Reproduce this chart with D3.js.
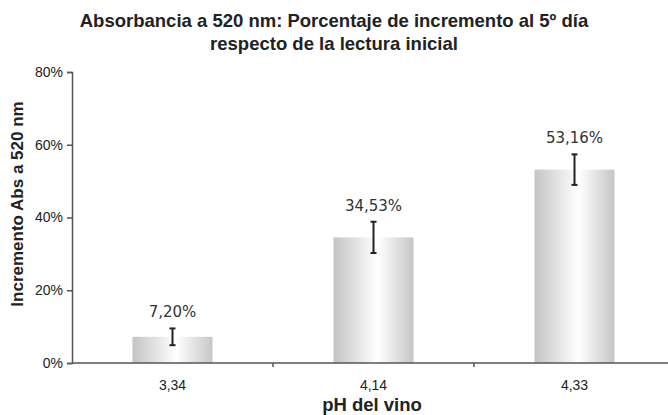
<!DOCTYPE html>
<html>
<head>
<meta charset="utf-8">
<script src="https://cdn.jsdelivr.net/npm/d3@7"></script>
<style>
  body { margin: 0; background: #fff; }
</style>
</head>
<body>
<div id="chart"></div>
<script>
var categories = ["3,34", "4,14", "4,33"];
var values = [7.20, 34.53, 53.16];
var errors = [2.3, 4.3, 4.2];
var valueLabels = ["7,20%", "34,53%", "53,16%"];
var yTicks = [0, 20, 40, 60, 80];

var W = 668, H = 415;
var margin = {top: 72, right: -7, bottom: 52, left: 72},
    width = W - margin.left - margin.right,
    height = H - margin.top - margin.bottom;

var svg = d3.select("#chart").append("svg")
    .attr("width", W)
    .attr("height", H);

var defs = svg.append("defs");
var grad = defs.append("linearGradient")
    .attr("id", "barGrad")
    .attr("x1", "0%").attr("x2", "100%").attr("y1", "0%").attr("y2", "0%");
grad.append("stop").attr("offset", "0%").attr("stop-color", "#c4c4c4");
grad.append("stop").attr("offset", "55%").attr("stop-color", "#ffffff");
grad.append("stop").attr("offset", "100%").attr("stop-color", "#c6c6c6");

var g = svg.append("g")
    .attr("transform", "translate(" + margin.left + "," + margin.top + ")");

var x = d3.scaleBand().domain(categories).range([0, 603]).paddingInner(0).paddingOuter(0);
var y = d3.scaleLinear().domain([0, 80]).range([height, 0]);

// title
var title = svg.append("text")
    .attr("text-anchor", "middle")
    .attr("font-family", "Liberation Sans, Arial, sans-serif")
    .attr("font-weight", "bold")
    .attr("font-size", "18.5px")
    .attr("fill", "#222");
title.append("tspan").attr("x", 334).attr("y", 27)
    .text("Absorbancia a 520 nm: Porcentaje de incremento al 5º día");
title.append("tspan").attr("x", 334).attr("y", 50)
    .text("respecto de la lectura inicial");

// bars
var barW = 80;
g.selectAll("rect.bar")
    .data(values)
    .enter().append("rect")
    .attr("class", "bar")
    .attr("x", function(d, i) { return x(categories[i]) + x.bandwidth() / 2 - barW / 2; })
    .attr("y", function(d) { return y(d); })
    .attr("width", barW)
    .attr("height", function(d) { return height - y(d); })
    .attr("fill", "url(#barGrad)");

// error bars
var eb = g.selectAll("g.err")
    .data(values)
    .enter().append("g")
    .attr("class", "err")
    .attr("stroke", "#222")
    .attr("stroke-width", 2);
eb.append("line")
    .attr("x1", function(d, i) { return x(categories[i]) + x.bandwidth() / 2; })
    .attr("x2", function(d, i) { return x(categories[i]) + x.bandwidth() / 2; })
    .attr("y1", function(d, i) { return y(d + errors[i]); })
    .attr("y2", function(d, i) { return y(d - errors[i]); });
[1, -1].forEach(function(s) {
  eb.append("line")
      .attr("x1", function(d, i) { return x(categories[i]) + x.bandwidth() / 2 - 3; })
      .attr("x2", function(d, i) { return x(categories[i]) + x.bandwidth() / 2 + 3; })
      .attr("y1", function(d, i) { return y(d + s * errors[i]); })
      .attr("y2", function(d, i) { return y(d + s * errors[i]); });
});

// value labels
g.selectAll("text.val")
    .data(values)
    .enter().append("text")
    .attr("class", "val")
    .attr("text-anchor", "middle")
    .attr("font-family", "DejaVu Sans, Verdana, sans-serif")
    .attr("font-size", "15px")
    .attr("fill", "#333")
    .attr("x", function(d, i) { return x(categories[i]) + x.bandwidth() / 2; })
    .attr("y", function(d, i) { return y(d + errors[i]) - 11; })
    .text(function(d, i) { return valueLabels[i]; });

// y axis
var yAxis = g.append("g")
    .call(d3.axisLeft(y).tickValues(yTicks).tickSize(5).tickPadding(4)
        .tickFormat(function(d) { return d + "%"; }));
yAxis.select(".domain").attr("stroke", "#555").attr("stroke-width", 1.5);
yAxis.selectAll(".tick line").attr("stroke", "#555").attr("stroke-width", 1.5);
yAxis.selectAll(".tick text")
    .attr("font-family", "Liberation Sans, Arial, sans-serif")
    .attr("font-size", "14px")
    .attr("fill", "#222");

// x axis
var xAxis = g.append("g")
    .attr("transform", "translate(0," + height + ")");
xAxis.append("line")
    .attr("x1", 0).attr("x2", 603)
    .attr("stroke", "#555").attr("stroke-width", 1.5);
xAxis.selectAll("line.tk")
    .data(categories.slice(1))
    .enter().append("line")
    .attr("class", "tk")
    .attr("x1", function(d) { return x(d); })
    .attr("x2", function(d) { return x(d); })
    .attr("y1", 0).attr("y2", 4)
    .attr("stroke", "#555").attr("stroke-width", 1.5);
xAxis.selectAll("text")
    .data(categories)
    .enter().append("text")
    .attr("text-anchor", "middle")
    .attr("font-family", "Liberation Sans, Arial, sans-serif")
    .attr("font-size", "14px")
    .attr("fill", "#222")
    .attr("x", function(d) { return x(d) + x.bandwidth() / 2; })
    .attr("y", 27)
    .text(function(d) { return d; });

// axis titles
svg.append("text")
    .attr("text-anchor", "middle")
    .attr("font-family", "Liberation Sans, Arial, sans-serif")
    .attr("font-weight", "bold")
    .attr("font-size", "18.5px")
    .attr("fill", "#222")
    .attr("x", 372).attr("y", 411)
    .text("pH del vino");

svg.append("text")
    .attr("text-anchor", "middle")
    .attr("font-family", "Liberation Sans, Arial, sans-serif")
    .attr("font-weight", "bold")
    .attr("font-size", "17px")
    .attr("fill", "#222")
    .attr("transform", "translate(23,204) rotate(-90)")
    .text("Incremento Abs a 520 nm");
</script>
</body>
</html>
